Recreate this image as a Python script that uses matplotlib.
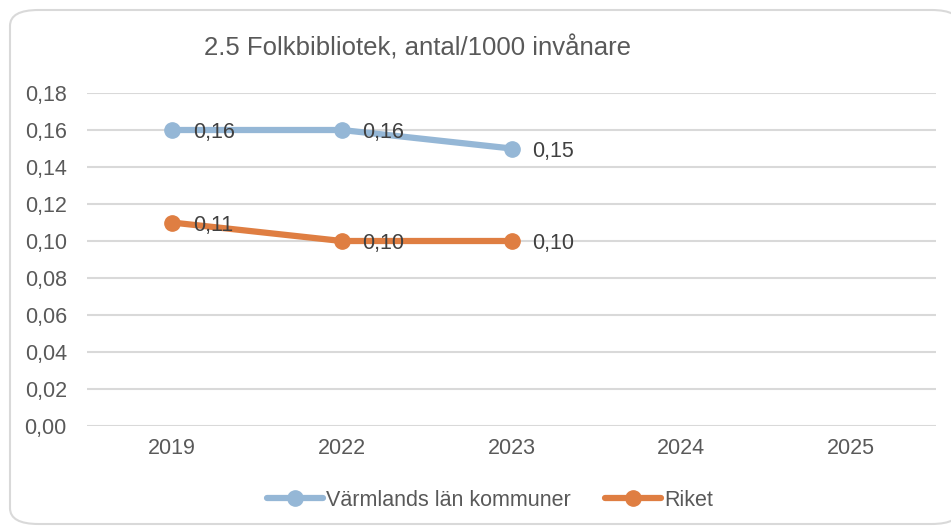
import matplotlib
matplotlib.use("Agg")
import matplotlib.pyplot as plt
from matplotlib.patches import FancyBboxPatch
from matplotlib.lines import Line2D

categories = ["2019", "2022", "2023", "2024", "2025"]
varmland = [0.16, 0.16, 0.15]
riket = [0.11, 0.10, 0.10]
yticks = [0.00, 0.02, 0.04, 0.06, 0.08, 0.10, 0.12, 0.14, 0.16, 0.18]
title = "2.5 Folkbibliotek, antal/1000 invånare"
series_names = ["Värmlands län kommuner", "Riket"]

blue = "#95B7D6"
orange = "#DF7E42"
text_col = "#595959"
label_col = "#404040"
grid_col = "#D9D9D9"

plt.rcParams['font.family'] = ['Liberation Sans', 'DejaVu Sans']

W, H = 951, 528
fig = plt.figure(figsize=(W/100, H/100), dpi=100)

# rounded border
border = FancyBboxPatch((10/W, 4/H), (960-10)/W, (518-4)/H,
                        boxstyle="round,pad=0,rounding_size=0.03",
                        transform=fig.transFigure, facecolor="white",
                        edgecolor="#D9D9D9", linewidth=1.5, zorder=-1)
fig.patches.append(border)

left, right = 87/W, 936/W
bottom, top = 1-426/H, 1-93/H
ax = fig.add_axes([left, bottom, right-left, top-bottom])
ax.set_zorder(1)
ax.set_facecolor("none")

x = list(range(len(categories)))
ax.set_xlim(-0.5, len(categories)-0.5)
ax.set_ylim(0, 0.18)
ax.set_yticks(yticks)
ax.set_yticklabels([f"{v:.2f}".replace(".", ",") for v in yticks])
ax.set_xticks(x)
ax.set_xticklabels(categories)
ax.tick_params(axis='both', length=0, labelsize=15.5, colors=text_col)
ax.tick_params(axis='y', pad=14.5)
ax.tick_params(axis='x', pad=9)
for s in ax.spines.values():
    s.set_visible(False)
ax.grid(axis='y', color=grid_col, linewidth=1.5)
ax.set_axisbelow(True)

for vals, col in [(varmland, blue), (riket, orange)]:
    xs = x[:len(vals)]
    ax.plot(xs, vals, color=col, linewidth=4.5, marker='o', markersize=11,
            solid_capstyle='round', zorder=3)
    for xi, v in zip(xs, vals):
        ax.annotate(f"{v:.2f}".replace(".", ","), (xi, v), xytext=(15, -2),
                    textcoords='offset points', ha='left', va='center',
                    fontsize=15.5, color=label_col, zorder=4)

fig.text(418/W, 1-48/H, title, ha='center', va='center', fontsize=18.5, color=text_col)

handles = [Line2D([], [], color=c, linewidth=4.5, marker='o', markersize=11,
                  solid_capstyle='round') for c in (blue, orange)]
leg = fig.legend(handles, series_names, loc='center', bbox_to_anchor=(490/W, 1-500/H),
                 ncol=2, frameon=False, fontsize=15.5, handlelength=2.6,
                 handletextpad=0.15, columnspacing=1.6)
for t in leg.get_texts():
    t.set_color(text_col)

fig.savefig("out.png", dpi=100)
